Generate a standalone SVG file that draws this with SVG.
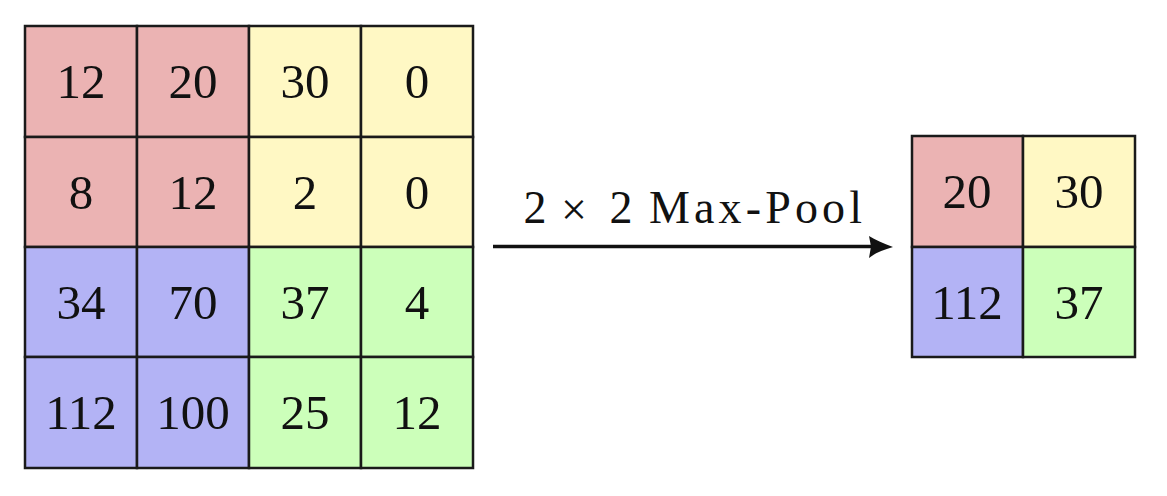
<svg xmlns="http://www.w3.org/2000/svg" width="1167" height="496" viewBox="0 0 1167 496">
<style>
.r{fill:#ebb3b3}.y{fill:#fff8c4}.b{fill:#b3b3f5}.g{fill:#ccffba}
.c{stroke:#1a1a1a;stroke-width:2.5}
.t{font-family:"Liberation Serif","DejaVu Serif",serif;font-size:49px;fill:#111;text-anchor:middle}
.lbl{font-family:"Liberation Serif","DejaVu Serif",serif;font-size:46px;fill:#111}
</style>
<rect width="1167" height="496" fill="#fff"/>
<g id="input-grid">
<rect class="r c" x="25" y="26" width="112" height="111"/>
<rect class="r c" x="137" y="26" width="112" height="111"/>
<rect class="y c" x="249" y="26" width="112" height="111"/>
<rect class="y c" x="361" y="26" width="112" height="111"/>
<rect class="r c" x="25" y="137" width="112" height="110"/>
<rect class="r c" x="137" y="137" width="112" height="110"/>
<rect class="y c" x="249" y="137" width="112" height="110"/>
<rect class="y c" x="361" y="137" width="112" height="110"/>
<rect class="b c" x="25" y="247" width="112" height="110"/>
<rect class="b c" x="137" y="247" width="112" height="110"/>
<rect class="g c" x="249" y="247" width="112" height="110"/>
<rect class="g c" x="361" y="247" width="112" height="110"/>
<rect class="b c" x="25" y="357" width="112" height="111"/>
<rect class="b c" x="137" y="357" width="112" height="111"/>
<rect class="g c" x="249" y="357" width="112" height="111"/>
<rect class="g c" x="361" y="357" width="112" height="111"/>
<text class="t" x="81" y="98">12</text>
<text class="t" x="193" y="98">20</text>
<text class="t" x="305" y="98">30</text>
<text class="t" x="417" y="98">0</text>
<text class="t" x="81" y="209">8</text>
<text class="t" x="193" y="209">12</text>
<text class="t" x="305" y="209">2</text>
<text class="t" x="417" y="209">0</text>
<text class="t" x="81" y="319">34</text>
<text class="t" x="193" y="319">70</text>
<text class="t" x="305" y="319">37</text>
<text class="t" x="417" y="319">4</text>
<text class="t" x="81" y="429">112</text>
<text class="t" x="193" y="429">100</text>
<text class="t" x="305" y="429">25</text>
<text class="t" x="417" y="429">12</text>
</g>
<g id="output-grid">
<rect class="r c" x="912" y="136" width="111" height="111"/>
<rect class="y c" x="1023" y="136" width="112" height="111"/>
<rect class="b c" x="912" y="247" width="111" height="110"/>
<rect class="g c" x="1023" y="247" width="112" height="110"/>
<text class="t" x="967" y="208">20</text>
<text class="t" x="1079" y="208">30</text>
<text class="t" x="967" y="319">112</text>
<text class="t" x="1079" y="319">37</text>
</g>
<g id="connectors">
<line x1="493" y1="246.5" x2="885" y2="246.5" stroke="#111" stroke-width="3.5"/>
<path d="M893 247 C883 243 875 240 869 236 L871 246.5 L869 258 C875 253 883 250 893 247 Z" fill="#111"/>
</g>
<g id="label">
<text class="lbl" x="535" y="223" text-anchor="middle">2</text>
<text class="lbl" x="574" y="225" text-anchor="middle" font-size="56">×</text>
<text class="lbl" x="621" y="223" text-anchor="middle">2</text>
<text class="lbl" x="649" y="223" textLength="213" lengthAdjust="spacing">Max-Pool</text>
</g>
</svg>
